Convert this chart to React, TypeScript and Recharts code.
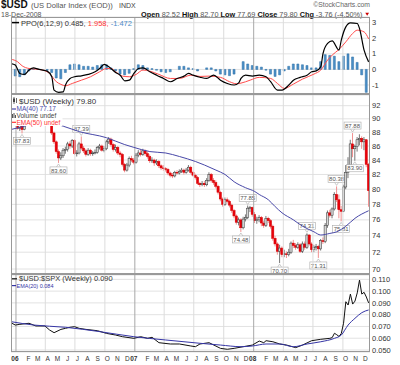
import React from "react"
import {
  ComposedChart,
  Bar,
  Line,
  XAxis,
  YAxis,
  CartesianGrid,
  ReferenceLine,
} from "recharts"

const FONT = "'Liberation Sans', Arial, sans-serif"

// weekly $USD candles, week 0 = 6-Jan-2006 ... week 154 = 19-Dec-2008
const priceOpen = [
  90.0, 88.6, 89.0, 88.4, 89.5, 90.3, 90.9, 90.6, 90.2, 89.7, 90.6, 89.2, 89.7, 89.6, 89.9, 89.2, 87.9, 86.6, 85.2, 84.3,
  84.6, 85.4, 85.5, 86.3, 86.0, 86.8, 84.9, 85.0, 86.3, 85.7, 85.3, 84.8, 85.4, 84.9, 85.0, 85.1, 85.8, 86.0, 85.4, 85.6,
  86.6, 87.0, 86.2, 85.5, 85.8, 85.0, 84.8, 83.4, 82.6, 83.3, 84.2, 84.0,
  83.7, 84.7, 85.0, 84.8, 85.3, 84.9, 84.5, 83.9, 84.0, 83.6, 83.8, 83.2, 82.9, 82.8, 82.7, 82.2, 81.9, 81.8, 82.3, 82.2,
  82.4, 82.6, 82.3, 82.6, 83.0, 82.3, 81.9, 81.6, 80.8, 80.6, 80.8, 80.6, 81.2, 82.0, 81.2, 80.9, 80.4, 79.6, 78.7, 78.0,
  78.6, 78.4, 77.9, 77.2, 76.5, 75.7, 76.0, 75.0, 76.1, 76.3, 77.5, 77.6,
  76.7, 75.9, 76.0, 76.3, 75.6, 75.3, 76.2, 75.9, 75.2, 73.7, 73.0, 72.1, 72.5, 71.7, 71.8, 71.7, 72.0, 73.1, 72.8, 72.6,
  72.9, 72.1, 73.0, 72.6, 74.1, 73.0, 72.3, 72.6, 72.7, 72.4, 73.4, 73.3, 75.3, 76.9, 76.6, 77.4, 79.3, 78.6, 77.3, 77.1,
  80.3, 82.3, 83.3, 86.3, 85.6, 85.9, 86.9, 87.1, 86.6, 86.9, 83.4,
]
const priceHigh = [
  90.3, 89.4, 89.3, 89.8, 90.6, 91.2, 91.3, 90.9, 90.5, 90.9, 90.8, 90.0, 90.2, 90.3, 90.1, 89.4, 88.1, 86.8, 85.5, 85.1,
  85.7, 85.9, 86.6, 86.7, 87.0, 87.0, 85.4, 86.6, 87.39, 86.0, 85.6, 85.7, 85.6, 85.3, 85.5, 86.0, 86.3, 86.2, 86.0, 86.9,
  87.3, 87.2, 86.4, 86.2, 86.0, 85.3, 85.0, 83.6, 83.6, 84.5, 84.6, 84.3,
  85.0, 85.4, 85.5, 85.6, 85.5, 85.2, 84.8, 84.4, 84.2, 84.1, 84.0, 83.4, 83.3, 83.0, 82.9, 82.4, 82.2, 82.5, 82.6, 82.7,
  82.9, 82.8, 82.9, 83.3, 83.2, 82.5, 82.1, 81.8, 81.0, 81.1, 81.1, 81.5, 82.3, 82.2, 81.5, 81.2, 80.6, 79.8, 78.9, 78.9,
  78.9, 78.6, 78.1, 77.4, 76.7, 76.3, 76.2, 76.4, 76.7, 77.85, 77.8, 77.7,
  77.0, 76.4, 76.6, 76.5, 75.9, 76.5, 76.4, 76.1, 75.4, 74.0, 73.2, 72.9, 72.7, 72.3, 72.1, 72.4, 73.3, 73.5, 73.1, 73.2,
  73.1, 73.3, 73.3, 74.31, 74.2, 73.2, 72.9, 73.0, 72.9, 73.6, 73.8, 75.6, 77.2, 77.3, 77.6, 79.6, 80.38, 79.3, 77.8, 80.6,
  83.3, 84.4, 86.9, 87.88, 86.2, 87.3, 87.7, 87.4, 87.3, 87.0, 83.6,
]
const priceLow = [
  88.4, 88.2, 87.83, 88.3, 89.3, 90.0, 90.2, 89.8, 89.4, 89.5, 89.1, 89.1, 89.3, 89.3, 89.0, 87.6, 86.3, 84.9, 83.6, 84.0,
  84.3, 84.9, 85.2, 85.6, 85.7, 84.7, 84.5, 84.8, 85.4, 85.0, 84.5, 84.6, 84.6, 84.6, 84.8, 84.9, 85.5, 85.2, 85.1, 85.4,
  86.3, 85.9, 85.2, 85.2, 84.7, 84.4, 83.1, 82.3, 82.4, 83.0, 83.7, 83.4,
  83.5, 84.4, 84.5, 84.6, 84.6, 84.2, 83.6, 83.6, 83.2, 83.3, 82.9, 82.6, 82.5, 82.4, 81.9, 81.6, 81.5, 81.6, 82.0, 82.0,
  82.2, 82.0, 82.1, 82.4, 82.1, 81.7, 81.3, 80.6, 80.3, 80.4, 80.3, 80.4, 81.0, 80.9, 80.6, 80.1, 79.3, 78.4, 77.7, 77.8,
  78.1, 77.6, 76.9, 76.2, 75.4, 75.3, 74.48, 74.8, 75.8, 76.1, 77.0, 76.4,
  75.6, 75.5, 75.7, 75.2, 75.0, 75.1, 75.6, 74.9, 73.4, 72.7, 71.7, 70.7, 71.4, 71.4, 71.3, 71.5, 71.8, 72.5, 72.3, 72.4,
  71.9, 71.9, 72.3, 72.4, 72.8, 72.0, 72.0, 72.2, 71.31, 72.2, 73.0, 73.1, 75.0, 76.3, 76.2, 77.2, 78.3, 76.2, 75.81, 77.0,
  80.0, 81.5, 82.9, 84.4, 83.9, 85.2, 86.1, 85.6, 85.4, 83.0, 77.69,
]
const priceClose = [
  88.6, 89.0, 88.4, 89.5, 90.3, 90.9, 90.6, 90.2, 89.7, 90.6, 89.2, 89.7, 89.6, 89.9, 89.2, 87.9, 86.6, 85.2, 84.3, 84.6,
  85.4, 85.5, 86.3, 86.0, 86.8, 84.9, 85.0, 86.3, 85.7, 85.3, 84.8, 85.4, 84.9, 85.0, 85.1, 85.8, 86.0, 85.4, 85.6, 86.6,
  87.0, 86.2, 85.5, 85.8, 85.0, 84.8, 83.4, 82.6, 83.3, 84.2, 84.0, 83.7,
  84.7, 85.0, 84.8, 85.3, 84.9, 84.5, 83.9, 84.0, 83.6, 83.8, 83.2, 82.9, 82.8, 82.7, 82.2, 81.9, 81.8, 82.3, 82.2, 82.4,
  82.6, 82.3, 82.6, 83.0, 82.3, 81.9, 81.6, 80.8, 80.6, 80.8, 80.6, 81.2, 82.0, 81.2, 80.9, 80.4, 79.6, 78.7, 78.0, 78.6,
  78.4, 77.9, 77.2, 76.5, 75.7, 76.0, 75.0, 76.1, 76.3, 77.5, 77.6, 76.7,
  75.9, 76.0, 76.3, 75.6, 75.3, 76.2, 75.9, 75.2, 73.7, 73.0, 72.1, 72.5, 71.7, 71.8, 71.7, 72.0, 73.1, 72.8, 72.6, 72.9,
  72.1, 73.0, 72.6, 74.1, 73.0, 72.3, 72.6, 72.7, 72.4, 73.4, 73.3, 75.3, 76.9, 76.6, 77.4, 79.3, 78.6, 77.3, 77.1, 80.3,
  82.3, 83.3, 86.3, 85.6, 85.9, 86.9, 87.1, 86.6, 86.9, 83.4, 79.8,
]

// annotated swing highs / lows
const markWeeks = [2, 18, 28, 98, 101, 115, 127, 132, 140, 142, 147, 148]
const markSides = ["low", "low", "high", "low", "high", "low", "high", "low", "high", "low", "high", "low"]

// MA(40)
const maWeeks = [-3, 2, 11, 20, 27, 39, 47, 51, 58, 65, 71, 78, 82, 87, 91, 95, 100, 104, 106, 110, 113, 116, 121, 125, 130, 133, 137, 140, 144, 148, 154]
const maValues = [88.4, 88.8, 89.6, 88.9, 88.1, 87.2, 86.2, 85.8, 85.2, 85.0, 84.5, 83.8, 83.3, 82.6, 82.0, 81.0, 80.2, 79.7, 79.3, 78.6, 77.7, 76.9, 76.0, 75.2, 74.5, 74.1, 74.3, 74.5, 75.2, 76.2, 77.17]

// PPO(6,12,9)
const ppoWeeks = [-3, -1, 1, 3, 5, 7, 9, 11, 13, 15, 16, 18, 20, 21, 23, 25, 28, 31, 34, 36, 38, 40, 43, 45, 47, 49, 51, 53, 55, 58, 61, 64, 67, 70, 73, 75, 77, 80, 83, 86, 89, 92, 95, 97, 98, 100, 103, 106, 109, 111, 114, 116, 119, 121, 124, 127, 129, 131, 133, 134, 136, 138, 141, 142, 144, 146, 149, 150, 152, 154]
const ppoValues = [0.38, 0.28, -0.26, -0.32, -0.04, 0.1, 0.02, -0.04, -0.11, -0.47, -1.33, -1.47, -1.44, -1.0, -0.58, -0.47, -0.41, -0.32, -0.15, 0.06, 0.32, 0.17, -0.19, -0.37, -0.73, -0.69, -0.26, 0.06, 0.1, -0.15, -0.37, -0.58, -0.79, -0.58, -0.43, -0.26, -0.37, -0.5, -0.58, -0.37, -0.69, -0.9, -1.0, -0.86, -0.58, -0.37, -0.43, -0.37, -0.47, -0.79, -1.33, -1.33, -1.0, -0.69, -0.51, -0.37, -0.15, -0.09, 0.17, 1.03, 1.67, 1.83, 1.24, 1.88, 2.73, 2.99, 2.95, 2.63, 1.24, 0.485]
const signalWeeks = [-3, 0, 2, 5, 8, 11, 14, 17, 19, 21, 24, 28, 32, 36, 39, 41, 43, 46, 49, 52, 55, 58, 62, 67, 71, 76, 80, 84, 89, 93, 96, 98, 102, 106, 111, 114, 117, 121, 125, 130, 133, 136, 138, 141, 144, 147, 149, 152, 154]
const signalValues = [0.66, 0.49, 0.23, 0.06, 0.02, -0.04, -0.26, -0.79, -0.96, -1.05, -0.9, -0.69, -0.47, -0.15, 0.06, 0.06, -0.15, -0.43, -0.47, -0.32, -0.04, -0.11, -0.32, -0.58, -0.58, -0.37, -0.45, -0.43, -0.51, -0.79, -0.92, -0.88, -0.69, -0.51, -0.58, -0.9, -1.22, -0.94, -0.62, -0.3, -0.04, 0.6, 0.92, 1.28, 1.77, 2.31, 2.52, 2.41, 1.958]
// histogram, one bar every second week starting at week -3
const histValues = [
  -0.3, -0.42, -0.47, -0.35, -0.1, 0.03, 0.02, 0.0, -0.06, -0.2, -0.55, -0.6, -0.2, 0.3, 0.35, 0.3, 0.2, 0.2, 0.15, 0.25,
  0.3, 0.3, 0.1, -0.1, -0.3, -0.35, -0.25, 0.05, 0.3, 0.25, 0.1, 0.05, -0.05, -0.15, -0.2, -0.15, 0.0, 0.2, 0.2, 0.1,
  0.05, -0.1, 0.0, 0.1, 0.1, -0.1, -0.3, -0.35, -0.4, -0.3, 0.0, 0.5, 0.35, 0.25, 0.2, 0.15, -0.05, -0.3, -0.45, -0.35,
  -0.1, 0.2, 0.35, 0.35, 0.3, 0.25, 0.1, 0.1, 0.5, 0.95, 0.9, 0.85, 0.5, 0.85, 1.0, 0.8, 0.45, -0.35, -1.472,
]

// $USD:$SPX ratio and its EMA(20)
const ratioWeeks = [-3, -1, 1, 5, 8, 12, 14, 16, 19, 21, 23, 25, 27, 30, 35, 39, 43, 46, 51, 54, 57, 59, 62, 67, 71, 76, 78, 80, 84, 89, 92, 95, 99, 103, 106, 108, 109, 112, 115, 118, 122, 125, 129, 133, 137, 138, 139, 140, 141, 142, 143, 144, 145, 146, 147, 148, 149, 150, 151, 152, 153, 154]
const ratioValues = [
  0.0732, 0.0712, 0.0718, 0.0727, 0.0704, 0.0704, 0.067, 0.0647, 0.0675, 0.0684, 0.0693, 0.0698, 0.0684, 0.0675, 0.0664,
  0.0641, 0.0627, 0.0613, 0.0599, 0.0613, 0.0599, 0.0608, 0.0562, 0.0551, 0.0551, 0.0534, 0.0528, 0.0551, 0.0562, 0.0514,
  0.0506, 0.0514, 0.0528, 0.0542, 0.0576, 0.0562, 0.0579, 0.057, 0.0551, 0.0542, 0.052, 0.0542, 0.0579, 0.0591,
  0.0599, 0.0605, 0.0642, 0.063, 0.0615, 0.064, 0.0727, 0.091, 0.0882, 0.0975, 0.089, 0.0915, 0.0985, 0.1094, 0.0975,
  0.099, 0.095, 0.09,
]
const emaWeeks = [-3, 7, 21, 36, 51, 65, 80, 89, 98, 103, 109, 115, 121, 127, 133, 139, 142, 145, 148, 151, 154]
const emaValues = [0.0741, 0.0712, 0.0693, 0.0656, 0.0613, 0.0585, 0.0557, 0.0542, 0.0528, 0.0534, 0.0551, 0.0551, 0.0528, 0.0551, 0.057, 0.0599, 0.0627, 0.0712, 0.0769, 0.0817, 0.084]

const ppoTicks = [-1, 0, 1, 2, 3]
const priceTicks = [70, 72, 74, 76, 78, 80, 82, 84, 86, 88, 90, 92]
const ratioTicks = [0.05, 0.06, 0.07, 0.08, 0.09, 0.1, 0.11]
const yearLabels = ["06", "07", "08"]
const monthLetters = ["J", "F", "M", "A", "M", "J", "J", "A", "S", "O", "N", "D"]

const X_DOMAIN: [number, number] = [-2.9, 154.6]
const weekOf = (y: number, m: number, d: number) => (Date.UTC(y, m, d) - Date.UTC(2006, 0, 6)) / 604800000
const monthTicks = Array.from({ length: 36 }, (_, m) => weekOf(2006, m, 1))
const quarterTicks = monthTicks.filter((_, m) => m % 3 === 0)

const candles = priceClose.map((c, i) => {
  const k = markWeeks.indexOf(i)
  return {
    w: i,
    o: priceOpen[i],
    h: priceHigh[i],
    l: priceLow[i],
    c,
    range: [priceLow[i], priceHigh[i]],
    mark: k >= 0 ? markSides[k] : null,
  }
})
const pairs = (ws: number[], vs: number[]) => ws.map((w, i) => ({ w, v: vs[i] }))
const maData = pairs(maWeeks, maValues)
const ppoData = pairs(ppoWeeks, ppoValues)
const signalData = pairs(signalWeeks, signalValues)
const histData = histValues.map((v, k) => ({ w: -3 + 2 * k, v }))
const ratioData = pairs(ratioWeeks, ratioValues)
const emaData = pairs(emaWeeks, emaValues)

const Candle = (props: any) => {
  const { x, y, width, height, payload } = props
  if (!payload || height == null || isNaN(y)) return null
  const { o, h, l, c, mark } = payload
  const cx = x + width / 2
  const k = height / (Math.log(h) - Math.log(l))
  const py = (v: number) => y + (Math.log(h) - Math.log(v)) * k
  const up = c >= o
  const top = py(Math.max(o, c))
  const bh = Math.max(py(Math.min(o, c)) - top, 0.8)
  let label = null
  if (mark) {
    const hi = mark === "high"
    const tip = hi ? y - 1 : y + height + 1
    const by = hi ? tip - 10 : tip + 3
    label = (
      <g>
        <path
          d={hi ? `M${cx - 2},${tip - 3} L${cx},${tip} L${cx + 2},${tip - 3}` : `M${cx - 2},${tip + 3} L${cx},${tip} L${cx + 2},${tip + 3}`}
          fill="#fff"
          stroke="#aaa"
          strokeWidth={0.6}
        />
        <rect x={cx - 8.5} y={by} width={17} height={7} fill="#fff" stroke="#aaa" strokeWidth={0.6} />
        <text x={cx} y={by + 5.6} textAnchor="middle" fontSize={6} fill="#555" fontFamily={FONT}>
          {(hi ? h : l).toFixed(2)}
        </text>
      </g>
    )
  }
  return (
    <g>
      <line x1={cx} x2={cx} y1={y} y2={y + height} stroke={up ? "#777" : "#f09090"} strokeWidth={1} />
      <rect
        x={cx - 1.1}
        y={top}
        width={2.2}
        height={bh}
        fill={up ? "#d4d4d4" : "#e8000b"}
        stroke={up ? "#333" : "#d40000"}
        strokeWidth={0.5}
      />
      {label}
    </g>
  )
}

const rightTick = (fmt: (v: number) => string) => (p: any) => (
  <text x={372} y={p.y + 2.6} fontSize={7.5} fill="#333" fontFamily={FONT}>
    {fmt(p.payload.value)}
  </text>
)

const MonthTick = (p: any) => {
  const m = monthTicks.findIndex((t) => Math.abs(t - p.payload.value) < 1e-6)
  if (m < 0) return null
  const isYear = m % 12 === 0
  return (
    <text
      x={isYear ? p.x - 1 : p.x + 2.5}
      y={86.5}
      textAnchor="middle"
      fontSize={6.5}
      fontWeight={isYear ? 700 : 400}
      fill="#333"
      fontFamily={FONT}
    >
      {isYear ? yearLabels[m / 12] : monthLetters[m % 12]}
    </text>
  )
}

const quarterLines = () =>
  quarterTicks.map((w, k) => (
    <ReferenceLine key={k} x={w} stroke={k % 4 === 0 ? "#a8a8a8" : "#dcdcdc"} strokeWidth={1} />
  ))

const hiddenX = <XAxis type="number" dataKey="w" domain={X_DOMAIN} hide allowDataOverflow />

const App = () => {
  return (
    <div style={{ position: "relative", width: 400, height: 365, background: "#fff", overflow: "hidden" }}>
      <style>{"body{margin:0}"}</style>

      <div style={{ position: "absolute", left: 0, top: 0 }}>
        <ComposedChart width={400} height={95} data={histData} margin={{ top: 17, right: 0, bottom: 1, left: 11 }}>
          <CartesianGrid vertical={false} stroke="#e2e2e2" />
          {quarterLines()}
          {hiddenX}
          <YAxis
            orientation="right"
            width={30}
            domain={[-1.578, 3.366]}
            ticks={ppoTicks}
            interval={0}
            tick={rightTick((v) => String(v))}
            axisLine={false}
            tickLine={false}
            allowDataOverflow
          />
          <Bar dataKey="v" barSize={4} fill="#4b8fc6" stroke="#2d6ea6" strokeWidth={0.5} isAnimationActive={false} />
          <Line data={signalData} dataKey="v" type="monotone" stroke="#ff4b4b" strokeWidth={1} dot={false} isAnimationActive={false} />
          <Line data={ppoData} dataKey="v" type="monotone" stroke="#000" strokeWidth={1.2} dot={false} isAnimationActive={false} />
        </ComposedChart>
      </div>

      <div style={{ position: "absolute", left: 0, top: 94 }}>
        <ComposedChart width={400} height={181} data={candles} margin={{ top: 1, right: 0, bottom: 1, left: 11 }}>
          <CartesianGrid vertical={false} stroke="#e2e2e2" />
          {quarterLines()}
          {hiddenX}
          <YAxis
            orientation="right"
            width={30}
            scale="log"
            domain={[69.42, 93.66]}
            ticks={priceTicks}
            interval={0}
            tick={rightTick((v) => String(v))}
            axisLine={false}
            tickLine={false}
            allowDataOverflow
          />
          <Bar dataKey="range" barSize={2} shape={(p: any) => <Candle {...p} />} isAnimationActive={false} />
          <Line data={maData} dataKey="v" type="monotone" stroke="#4848a8" strokeWidth={1} dot={false} isAnimationActive={false} />
        </ComposedChart>
      </div>

      <div style={{ position: "absolute", left: 0, top: 274 }}>
        <ComposedChart width={400} height={91} data={ratioData} margin={{ top: 1, right: 0, bottom: 0, left: 11 }}>
          <CartesianGrid vertical={false} stroke="#e2e2e2" />
          {quarterLines()}
          <XAxis
            type="number"
            dataKey="w"
            domain={X_DOMAIN}
            ticks={monthTicks}
            interval={0}
            tick={MonthTick}
            axisLine={false}
            tickLine={false}
            height={13}
            allowDataOverflow
          />
          <YAxis
            orientation="right"
            width={30}
            domain={[0.0483, 0.1137]}
            ticks={ratioTicks}
            interval={0}
            tick={rightTick((v) => v.toFixed(3))}
            axisLine={false}
            tickLine={false}
            allowDataOverflow
          />
          <Line dataKey="v" type="linear" stroke="#111" strokeWidth={1} dot={false} isAnimationActive={false} />
          <Line data={emaData} dataKey="v" type="monotone" stroke="#3535a5" strokeWidth={1} dot={false} isAnimationActive={false} />
        </ComposedChart>
      </div>

      <svg width={400} height={365} style={{ position: "absolute", left: 0, top: 0, pointerEvents: "none" }} fontFamily={FONT}>
        {/* header */}
        <text x={1} y={8.3} fontSize={10} fontWeight={700} fill="#111">$USD</text>
        <text x={31} y={8.3} fontSize={7.6} fill="#555">(US Dollar Index (EOD))</text>
        <text x={119} y={8.3} fontSize={7} fill="#444">INDX</text>
        <text x={370} y={7} fontSize={6.8} fill="#666" textAnchor="end">©StockCharts.com</text>
        <text x={1} y={16.8} fontSize={7} fill="#555">18-Dec-2008</text>
        <text x={141} y={16.5} fontSize={7.3} fill="#555">
          <tspan fontWeight={700} fill="#111">Open</tspan> 82.52 <tspan fontWeight={700} fill="#111">High</tspan> 82.70{" "}
          <tspan fontWeight={700} fill="#111">Low</tspan> 77.69 <tspan fontWeight={700} fill="#111">Close</tspan> 79.80{" "}
          <tspan fontWeight={700} fill="#111">Chg</tspan> -3.76 (-4.50%)
        </text>
        <polygon points="365.3,12.8 369,12.8 367.15,15.8" fill="#c00" />

        {/* PPO legend */}
        <line x1={12} x2={19} y1={22.6} y2={22.6} stroke="#000" strokeWidth={1.5} />
        <text x={21} y={25.5} fontSize={7.5} fill="#333">
          PPO(6,12,9) 0.485, <tspan fill="#f33">1.958,</tspan> <tspan fill="#4a8ac8">-1.472</tspan>
        </text>

        {/* price legend */}
        <rect x={11.5} y={95} width={51} height={31} fill="#fff" />
        <line x1={14} x2={14} y1={97} y2={104} stroke="#444" strokeWidth={0.8} />
        <rect x={13} y={98.5} width={2} height={3.5} fill="#444" />
        <line x1={16.5} x2={16.5} y1={98} y2={103} stroke="#444" strokeWidth={0.8} />
        <text x={19} y={103.5} fontSize={8} fill="#333">$USD (Weekly) 79.80</text>
        <line x1={11.5} x2={16} y1={109} y2={109} stroke="#4848a8" strokeWidth={1.2} />
        <text x={16.5} y={111.3} fontSize={6.5} fill="#4848a8">MA(40) 77.17</text>
        <rect x={12} y={114} width={1} height={4} fill="#555" />
        <rect x={13.5} y={113} width={1} height={5} fill="#555" />
        <rect x={15} y={115} width={1} height={3} fill="#555" />
        <text x={16.5} y={118} fontSize={6.5} fill="#444">Volume undef</text>
        <line x1={11.5} x2={16} y1={122.3} y2={122.3} stroke="#f33" strokeWidth={1.2} />
        <text x={16.5} y={124.6} fontSize={6.5} fill="#f33">EMA(50) undef</text>

        {/* ratio legend */}
        <line x1={12} x2={17} y1={278.8} y2={278.8} stroke="#111" strokeWidth={1.2} />
        <text x={19} y={281.3} fontSize={7.5} fill="#333">$USD:$SPX (Weekly) 0.090</text>
        <line x1={12} x2={16} y1={285.6} y2={285.6} stroke="#3535a5" strokeWidth={1.2} />
        <text x={16.5} y={287.6} fontSize={5.5} fill="#3535a5">EMA(20) 0.084</text>

        {/* panel frames */}
        <rect x={11.5} y={17.5} width={358} height={76} fill="none" stroke="#999" />
        <rect x={11.5} y={94.5} width={358} height={179} fill="none" stroke="#999" />
        <rect x={11.5} y={274.5} width={358} height={77} fill="none" stroke="#999" />
      </svg>
    </div>
  )
}

export default App
